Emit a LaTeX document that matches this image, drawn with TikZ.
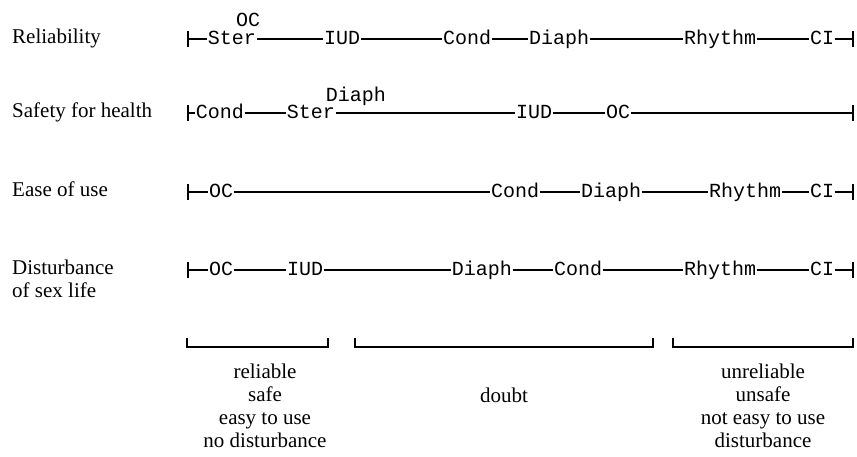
\documentclass[tikz,border=0pt]{standalone}
\usepackage{fontspec}
\setmainfont{Liberation Serif}
\newfontfamily\monofam{Liberation Mono}
\begin{document}
\begin{tikzpicture}[x=1pt,y=1pt,
  wd/.style={font=\monofam\fontsize{20}{22}\selectfont, inner sep=0.5pt, anchor=base},
  lab/.style={font=\fontsize{21}{23}\selectfont, inner sep=0pt, anchor=base west, align=left},
  note/.style={font=\fontsize{21}{23}\selectfont, inner sep=0pt, anchor=north, align=center},
  ln/.style={line width=1.4pt},
  tk/.style={line width=1.4pt}]
\useasboundingbox (0,0) rectangle (857,-457);
% ---------- row labels
\node[lab] (t1) at (12,-44) {Reliability};
\node[lab] (t2) at (12,-118) {Safety for health};
\node[lab] (t3) at (12,-197) {Ease of use};
\node[lab] (t4) at (12,-298) {Disturbance\\of sex life};
% ---------- row 1
\coordinate (a0) at (188,-39); \coordinate (a9) at (853,-39);
\node[wd] (a1) at (232,-45) {Ster};
\node[wd] (a1o) at (248,-27) {OC};
\node[wd] (a2) at (342,-45) {IUD};
\node[wd] (a3) at (467,-45) {Cond};
\node[wd] (a4) at (559,-45) {Diaph};
\node[wd] (a5) at (720,-45) {Rhythm};
\node[wd] (a6) at (822,-45) {CI};
\draw[ln] (a0) -- (a1.west|-a0) (a1.east|-a0) -- (a2.west|-a0) (a2.east|-a0) -- (a3.west|-a0)
  (a3.east|-a0) -- (a4.west|-a0) (a4.east|-a0) -- (a5.west|-a0) (a5.east|-a0) -- (a6.west|-a0)
  (a6.east|-a0) -- (a9);
\draw[tk] ([yshift=8pt]a0) -- ([yshift=-8pt]a0) ([yshift=8pt]a9) -- ([yshift=-8pt]a9);
% ---------- row 2
\coordinate (b0) at (188,-113); \coordinate (b9) at (853,-113);
\node[wd] (b1) at (220,-119) {Cond};
\node[wd] (b2) at (311,-119) {Ster};
\node[wd] (b2d) at (356,-102) {Diaph};
\node[wd] (b3) at (534,-119) {IUD};
\node[wd] (b4) at (618,-119) {OC};
\draw[ln] (b0) -- (b1.west|-b0) (b1.east|-b0) -- (b2.west|-b0) (b2.east|-b0) -- (b3.west|-b0)
  (b3.east|-b0) -- (b4.west|-b0) (b4.east|-b0) -- (b9);
\draw[tk] ([yshift=8pt]b0) -- ([yshift=-8pt]b0) ([yshift=8pt]b9) -- ([yshift=-8pt]b9);
% ---------- row 3
\coordinate (c0) at (188,-192); \coordinate (c9) at (853,-192);
\node[wd] (c1) at (221,-198) {OC};
\node[wd] (c2) at (515,-198) {Cond};
\node[wd] (c3) at (611,-198) {Diaph};
\node[wd] (c4) at (745,-198) {Rhythm};
\node[wd] (c5) at (822,-198) {CI};
\draw[ln] (c0) -- (c1.west|-c0) (c1.east|-c0) -- (c2.west|-c0) (c2.east|-c0) -- (c3.west|-c0)
  (c3.east|-c0) -- (c4.west|-c0) (c4.east|-c0) -- (c5.west|-c0) (c5.east|-c0) -- (c9);
\draw[tk] ([yshift=8pt]c0) -- ([yshift=-8pt]c0) ([yshift=8pt]c9) -- ([yshift=-8pt]c9);
% ---------- row 4
\coordinate (d0) at (188,-270); \coordinate (d9) at (853,-270);
\node[wd] (d1) at (221,-276) {OC};
\node[wd] (d2) at (305,-276) {IUD};
\node[wd] (d3) at (482,-276) {Diaph};
\node[wd] (d4) at (578,-276) {Cond};
\node[wd] (d5) at (720,-276) {Rhythm};
\node[wd] (d6) at (822,-276) {CI};
\draw[ln] (d0) -- (d1.west|-d0) (d1.east|-d0) -- (d2.west|-d0) (d2.east|-d0) -- (d3.west|-d0)
  (d3.east|-d0) -- (d4.west|-d0) (d4.east|-d0) -- (d5.west|-d0) (d5.east|-d0) -- (d6.west|-d0)
  (d6.east|-d0) -- (d9);
\draw[tk] ([yshift=8pt]d0) -- ([yshift=-8pt]d0) ([yshift=8pt]d9) -- ([yshift=-8pt]d9);
% ---------- brackets
\coordinate (e1) at (187,-347); \coordinate (e2) at (328,-347);
\coordinate (f1) at (355,-347); \coordinate (f2) at (653,-347);
\coordinate (g1) at (673,-347); \coordinate (g2) at (853,-347);
\draw[ln] ([yshift=9pt]e1) -- (e1) -- (e2) -- ([yshift=9pt]e2);
\draw[ln] ([yshift=9pt]f1) -- (f1) -- (f2) -- ([yshift=9pt]f2);
\draw[ln] ([yshift=9pt]g1) -- (g1) -- (g2) -- ([yshift=9pt]g2);
\node[note] (n1) at (265,-364) {reliable\\safe\\easy to use\\no disturbance};
\node[font=\fontsize{21}{23}\selectfont, inner sep=0pt, anchor=base] (n2) at (504,-402) {doubt};
\node[note] (n3) at (763,-364) {unreliable\\unsafe\\not easy to use\\disturbance};
\end{tikzpicture}
\end{document}
